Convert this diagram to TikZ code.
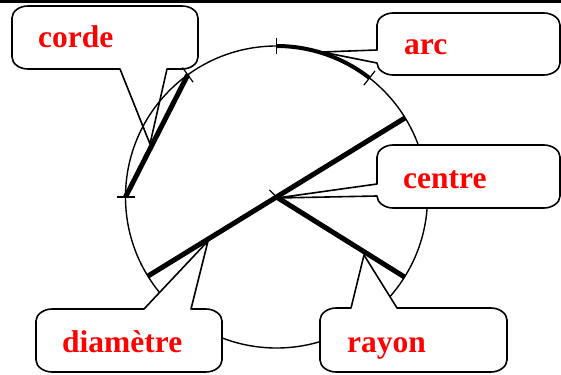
\documentclass[tikz,border=0pt]{standalone}
\usepackage{fontspec}
\setmainfont{Liberation Serif}
\usetikzlibrary{calc}
\definecolor{lbl}{RGB}{255,0,0}
\tikzset{
  callout/.style={draw=black, fill=white, line width=1.6pt, line join=round},
  lbltext/.style={anchor=base west, inner sep=0pt, text=lbl, font=\fontsize{31.5}{36}\selectfont\bfseries},
  thin circle/.style={draw=black, line width=1.4pt},
  thickseg/.style={draw=black, line width=5pt},
  tickmark/.style={draw=black, line width=1.2pt}
}
\begin{document}
\begin{tikzpicture}[x=1pt,y=1pt]
\useasboundingbox (0,0) rectangle (561,-374);
% top rule
\draw[line width=3pt] (0,-1.5) -- (561,-1.5);
\coordinate (O) at (276.5,-197);
% points on circle
\coordinate (chA) at ($(O)+(180:151)$);
\coordinate (chB) at ($(O)+(126:151)$);
\coordinate (arA) at ($(O)+(90:151)$);
\coordinate (arB) at ($(O)+(52:151)$);
\coordinate (diA) at ($(O)+(31.6:151)$);
\coordinate (diB) at ($(O)+(211.6:151)$);
\coordinate (ra) at ($(O)+(-32:151)$);
% corde callout (behind circle)
\path[callout] (28,-6) -- (182,-6) .. controls (190.8,-6) and (198,-11.4) .. (198,-18) -- (198,-57) .. controls (198,-63.6) and (190.8,-69) .. (182,-69) -- (167,-69) -- (150,-144) -- (120,-69) -- (28,-69) .. controls (19.2,-69) and (12,-63.6) .. (12,-57) -- (12,-18) .. controls (12,-11.4) and (19.2,-6) .. (28,-6) -- cycle;
% circle
\draw[thin circle] (O) circle (151);
% arc callout
\path[callout] (393,-13) -- (544,-13) .. controls (552.2,-13) and (560,-18.4) .. (560,-25) -- (560,-63) .. controls (560,-69.6) and (552.2,-75) .. (544,-75) -- (393,-75) .. controls (384.8,-75) and (377,-69.6) .. (377,-63) -- (322,-52) -- (377,-50) -- (377,-25) .. controls (377,-18.4) and (384.8,-13) .. (393,-13) -- cycle;
% centre callout
\path[callout] (393,-145) -- (544,-145) .. controls (552.2,-145) and (560,-150.4) .. (560,-157) -- (560,-196) .. controls (560,-202.6) and (552.2,-208) .. (544,-208) -- (393,-208) .. controls (384.8,-208) and (377,-202.6) .. (377,-196) -- (277,-198) -- (377,-184) -- (377,-157) .. controls (377,-150.4) and (384.8,-145) .. (393,-145) -- cycle;
% diametre callout
\path[callout] (52,-309) -- (144,-309) -- (208,-241) -- (191,-309) -- (206,-309) .. controls (214.2,-309) and (222,-314.4) .. (222,-321) -- (222,-360) .. controls (222,-366.6) and (214.2,-372) .. (206,-372) -- (52,-372) .. controls (43.8,-372) and (36,-366.6) .. (36,-360) -- (36,-321) .. controls (36,-314.4) and (43.8,-309) .. (52,-309) -- cycle;
% rayon callout
\path[callout] (336,-308) -- (351,-308) -- (364,-255) -- (397,-308) -- (491,-308) .. controls (499.2,-308) and (507,-313.4) .. (507,-320) -- (507,-360) .. controls (507,-366.6) and (499.2,-372) .. (491,-372) -- (336,-372) .. controls (327.8,-372) and (320,-366.6) .. (320,-360) -- (320,-320) .. controls (320,-313.4) and (327.8,-308) .. (336,-308) -- cycle;
% thick elements
\draw[line width=4pt] (arA) arc (90:52:151);
\draw[thickseg] (chA) -- (chB);
\draw[thickseg] (diA) -- (diB);
\draw[thickseg] (O) -- (ra);
% ticks
\draw[tickmark] ($(O)+(180:142)$) -- ($(O)+(180:160)$);
\draw[tickmark] ($(O)+(126:142)$) -- ($(O)+(126:160)$);
\draw[tickmark] ($(O)+(90:143)$) -- ($(O)+(90:159)$);
\draw[tickmark] ($(O)+(52:142)$) -- ($(O)+(52:160)$);
\draw[tickmark] (O) -- ++(135:10);
% labels
\node[lbltext] (corde) at (38,-48) {corde};
\node[lbltext] (arc) at (404,-55) {arc};
\node[lbltext] (centre) at (403,-188) {centre};
\node[lbltext] (diam) at (62,-352) {diamètre};
\node[lbltext] (rayon) at (347,-352) {rayon};
\end{tikzpicture}
\end{document}
